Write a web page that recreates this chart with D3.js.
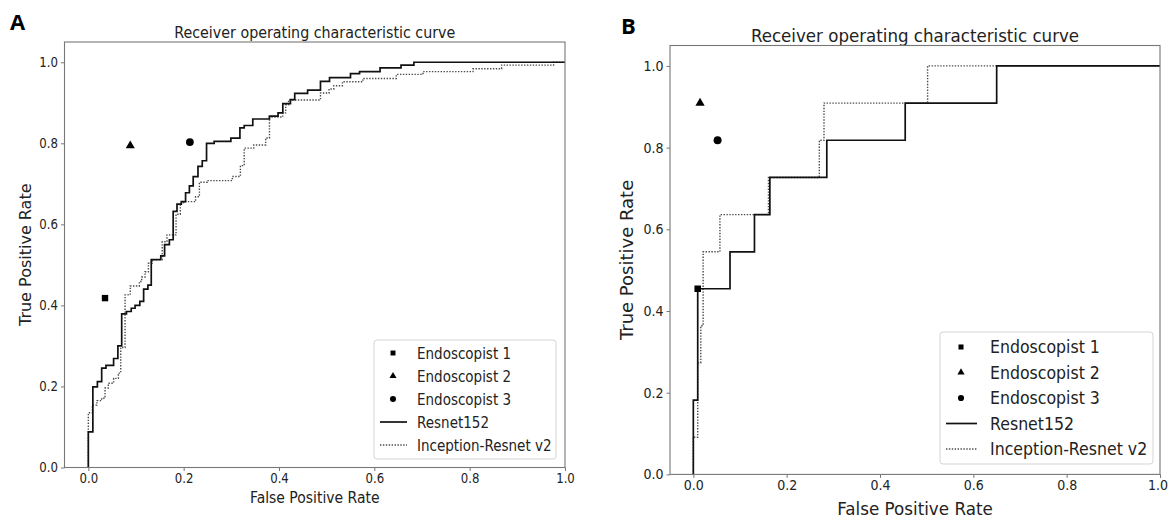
<!DOCTYPE html>
<html>
<head>
<meta charset="utf-8">
<script src="https://cdn.jsdelivr.net/npm/d3@7/dist/d3.min.js"></script>
<style>
  html, body { margin: 0; padding: 0; background: #fff; }
  svg { display: block; }
  text { font-family: "DejaVu Sans", sans-serif; fill: #222; }
</style>
</head>
<body>
<svg id="chart" width="1171" height="520"></svg>
<script>
// ---------------- DATA ----------------
const chartTitle = "Receiver operating characteristic curve";
const xLabel = "False Positive Rate";
const yLabel = "True Positive Rate";
const tickValues = [0, 0.2, 0.4, 0.6, 0.8, 1.0];
const tickLabels = ["0.0", "0.2", "0.4", "0.6", "0.8", "1.0"];
const legendLabels = ["Endoscopist 1", "Endoscopist 2", "Endoscopist 3", "Resnet152", "Inception-Resnet v2"];

// Panel A: ROC points (fpr where the rise happens, tpr after the rise)
const aResnetFpr = [0, 0, 0.0095, 0.019, 0.028, 0.037, 0.053, 0.062, 0.07, 0.08, 0.09, 0.098, 0.108, 0.116, 0.125, 0.132, 0.152, 0.16, 0.17, 0.178, 0.186, 0.195, 0.204, 0.212, 0.22, 0.23, 0.239, 0.248, 0.264, 0.299, 0.318, 0.327, 0.345, 0.38, 0.398, 0.408, 0.424, 0.433, 0.46, 0.487, 0.506, 0.55, 0.569, 0.612, 0.656, 0.683, 1.0];
const aResnetTpr = [0, 0.088, 0.199, 0.212, 0.245, 0.252, 0.269, 0.30, 0.379, 0.385, 0.393, 0.40, 0.41, 0.44, 0.45, 0.513, 0.522, 0.55, 0.562, 0.632, 0.650, 0.656, 0.678, 0.695, 0.718, 0.743, 0.757, 0.80, 0.805, 0.813, 0.838, 0.844, 0.86, 0.867, 0.875, 0.898, 0.908, 0.923, 0.931, 0.953, 0.962, 0.972, 0.977, 0.986, 0.993, 1.0, 1.0];

const aIncepFpr = [0, 0, 0.0085, 0.018, 0.028, 0.035, 0.042, 0.053, 0.063, 0.068, 0.077, 0.088, 0.107, 0.112, 0.119, 0.126, 0.134, 0.155, 0.165, 0.184, 0.193, 0.2, 0.225, 0.233, 0.249, 0.302, 0.319, 0.327, 0.347, 0.372, 0.38, 0.408, 0.414, 0.42, 0.487, 0.505, 0.515, 0.533, 0.576, 0.646, 0.702, 0.807, 0.867, 0.976, 1.0];
const aIncepTpr = [0, 0.135, 0.154, 0.165, 0.171, 0.196, 0.208, 0.22, 0.233, 0.296, 0.426, 0.448, 0.459, 0.47, 0.483, 0.504, 0.513, 0.557, 0.574, 0.625, 0.652, 0.656, 0.668, 0.704, 0.708, 0.718, 0.745, 0.788, 0.796, 0.813, 0.865, 0.875, 0.895, 0.907, 0.924, 0.934, 0.942, 0.952, 0.96, 0.97, 0.977, 0.984, 0.993, 1.0, 1.0];

const aEndoFpr = [0.035, 0.088, 0.213];
const aEndoTpr = [0.418, 0.794, 0.803];

// Panel B
const bResnetFpr = [0, 0, 0.0094, 0.0786, 0.131, 0.164, 0.286, 0.454, 0.650, 1.0];
const bResnetTpr = [0, 0.182, 0.4545, 0.545, 0.636, 0.727, 0.818, 0.909, 1.0, 1.0];

const bIncepFpr = [0, 0, 0.0094, 0.016, 0.021, 0.057, 0.161, 0.270, 0.280, 0.502, 1.0];
const bIncepTpr = [0, 0.091, 0.273, 0.364, 0.545, 0.636, 0.727, 0.818, 0.909, 1.0, 1.0];

const bEndoFpr = [0.0094, 0.0144, 0.052];
const bEndoTpr = [0.4545, 0.909, 0.818];

// ---------------- DRAW ----------------
const svg = d3.select("#chart");

function zip(xs, ys) { return xs.map((x, i) => ({ x: x, y: ys[i] })); }

// horizontally condense text (the reference figure is slightly squeezed in x)
function condense(sel, sx) {
  sel.each(function () {
    const w = this.getComputedTextLength();
    d3.select(this).attr("textLength", w * sx).attr("lengthAdjust", "spacingAndGlyphs");
  });
}

function drawPanel(cfg) {
  const x = d3.scaleLinear().domain([-0.05, 1.0]).range([cfg.left, cfg.right]);
  const y = d3.scaleLinear().domain([0, 1.05]).range([cfg.bottom, cfg.top]);
  const g = svg.append("g");
  const sx = cfg.sx;

  // letter
  g.append("text").attr("x", cfg.letterX).attr("y", cfg.letterY)
    .style("font-family", "'Open Sans', 'DejaVu Sans', sans-serif")
    .style("font-weight", "bold").style("font-size", cfg.letterSize + "px")
    .style("fill", "#000").text(cfg.letter);

  // title
  g.append("text").attr("x", (cfg.left + cfg.right) / 2).attr("y", cfg.titleY)
    .attr("text-anchor", "middle").style("font-size", cfg.titleSize + "px")
    .text(chartTitle).call(condense, sx);

  // axes
  const xAxis = d3.axisBottom(x).tickValues(tickValues)
    .tickFormat((d, i) => tickLabels[i]).tickSize(3.5).tickPadding(2.5);
  const yAxis = d3.axisLeft(y).tickValues(tickValues)
    .tickFormat((d, i) => tickLabels[i]).tickSize(3.5).tickPadding(3);

  const gx = g.append("g").attr("transform", `translate(0,${cfg.bottom})`).call(xAxis);
  const gy = g.append("g").attr("transform", `translate(${cfg.left},0)`).call(yAxis);
  [gx, gy].forEach(a => {
    a.select(".domain").remove();
    a.selectAll(".tick line").attr("stroke", "#666").attr("stroke-width", 0.9);
    a.selectAll(".tick text").style("font-size", cfg.tickSize + "px")
      .style("font-family", "'DejaVu Sans', sans-serif").attr("fill", "#222")
      .call(condense, sx);
  });
  if (cfg.lastXTickShift) {
    gx.selectAll(".tick text").filter((d, i) => i === tickValues.length - 1)
      .attr("dx", cfg.lastXTickShift);
  }

  // curves
  const line = d3.line().x(d => x(d.x)).y(d => y(d.y)).curve(d3.curveStepAfter);
  g.append("path").datum(zip(cfg.incepFpr, cfg.incepTpr))
    .attr("d", line).attr("fill", "none").attr("stroke", "#4a4a4a")
    .attr("stroke-width", 1.4).attr("stroke-dasharray", "1.4,1.5");
  g.append("path").datum(zip(cfg.resnetFpr, cfg.resnetTpr))
    .attr("d", line).attr("fill", "none").attr("stroke", "#111")
    .attr("stroke-width", 1.7);

  // endoscopist markers
  const shapes = [d3.symbolSquare, d3.symbolTriangle, d3.symbolCircle];
  const sizes = [cfg.markerArea * 0.85, cfg.markerArea * 0.75, cfg.markerArea];
  const pts = zip(cfg.endoFpr, cfg.endoTpr);
  g.selectAll(".endo").data(pts).join("path")
    .attr("transform", d => `translate(${x(d.x)},${y(d.y)})`)
    .attr("d", (d, i) => d3.symbol().type(shapes[i]).size(sizes[i])())
    .attr("fill", "#000");

  // frame (spines)
  g.append("rect").attr("x", cfg.left).attr("y", cfg.top)
    .attr("width", cfg.right - cfg.left).attr("height", cfg.bottom - cfg.top)
    .attr("fill", "none").attr("stroke", "#777").attr("stroke-width", 1.1);

  // axis labels
  g.append("text").attr("x", (cfg.left + cfg.right) / 2).attr("y", cfg.xLabelY)
    .attr("text-anchor", "middle").style("font-size", cfg.labelSize + "px")
    .text(xLabel).call(condense, cfg.xLabelSx || sx);
  g.append("text").attr("transform", `translate(${cfg.yLabelX},${(cfg.top + cfg.bottom) / 2}) rotate(-90)`)
    .attr("text-anchor", "middle").style("font-size", cfg.yLabelSize + "px").text(yLabel);

  // legend
  const L = cfg.legend;
  const lg = g.append("g");
  lg.append("rect").attr("x", L.x0).attr("y", L.y0)
    .attr("width", L.x1 - L.x0).attr("height", L.y1 - L.y0)
    .attr("rx", 3).attr("fill", "#fff").attr("fill-opacity", 0.85)
    .attr("stroke", "#d4d4d4").attr("stroke-width", 1);
  legendLabels.forEach((lab, i) => {
    const yy = L.rowY0 + i * L.rowStep;
    if (i < 3) {
      lg.append("path").attr("transform", `translate(${L.markerX},${yy})`)
        .attr("d", d3.symbol().type(shapes[i]).size(sizes[i] * 0.6)())
        .attr("fill", "#000");
    } else if (i === 3) {
      lg.append("line").attr("x1", L.lineX0).attr("x2", L.lineX1).attr("y1", yy).attr("y2", yy)
        .attr("stroke", "#111").attr("stroke-width", 1.7);
    } else {
      lg.append("line").attr("x1", L.lineX0).attr("x2", L.lineX1).attr("y1", yy).attr("y2", yy)
        .attr("stroke", "#4a4a4a").attr("stroke-width", 1.4).attr("stroke-dasharray", "1.4,1.5");
    }
    lg.append("text").attr("x", L.textX).attr("y", yy).attr("dy", "0.36em")
      .style("font-size", L.fontSize + "px").text(lab).call(condense, sx);
  });
}

drawPanel({
  letter: "A", letterX: 10, letterY: 30, letterSize: 22, sx: 0.87,
  left: 64.5, right: 565, top: 42, bottom: 467.5,
  titleY: 38, titleSize: 16.4, tickSize: 13.5, labelSize: 15, xLabelSx: 0.93, yLabelSize: 16,
  xLabelY: 503, yLabelX: 31,
  resnetFpr: aResnetFpr, resnetTpr: aResnetTpr,
  incepFpr: aIncepFpr, incepTpr: aIncepTpr,
  endoFpr: aEndoFpr, endoTpr: aEndoTpr, markerArea: 48,
  legend: { x0: 374, x1: 556, y0: 340, y1: 459, rowY0: 353, rowStep: 23,
            markerX: 393, lineX0: 380, lineX1: 407, textX: 417, fontSize: 15.5 }
});

drawPanel({
  letter: "B", letterX: 621, letterY: 34, letterSize: 22, sx: 0.9,
  left: 670, right: 1160, top: 45.5, bottom: 474.4,
  titleY: 41.5, titleSize: 18.5, tickSize: 14, labelSize: 18, xLabelSx: 0.93, yLabelSize: 18,
  xLabelY: 515, yLabelX: 633, lastXTickShift: -2.5,
  resnetFpr: bResnetFpr, resnetTpr: bResnetTpr,
  incepFpr: bIncepFpr, incepTpr: bIncepTpr,
  endoFpr: bEndoFpr, endoTpr: bEndoTpr, markerArea: 50,
  legend: { x0: 940, x1: 1153, y0: 332, y1: 464, rowY0: 347, rowStep: 25.5,
            markerX: 961, lineX0: 946, lineX1: 977, textX: 990, fontSize: 17.5 }
});
</script>
</body>
</html>
